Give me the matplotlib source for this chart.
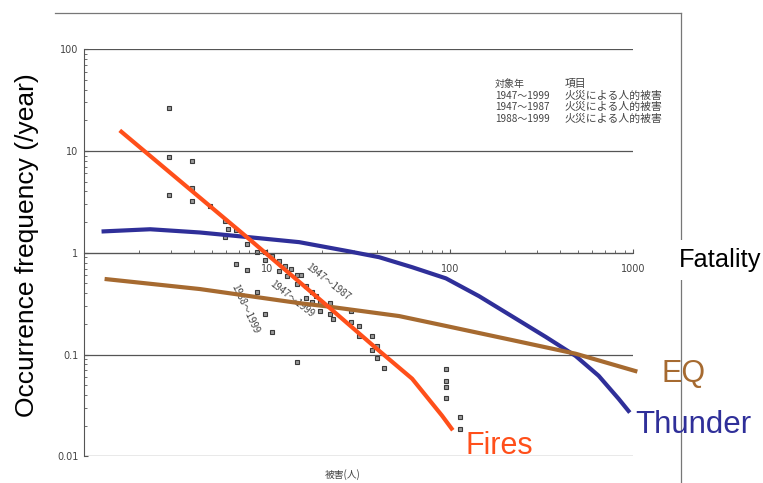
import matplotlib
matplotlib.use("Agg")
import matplotlib.pyplot as plt
import matplotlib.ticker as ticker
from matplotlib.lines import Line2D

# overlay curves (fatalities, frequency per year)
fires_x = [1.6, 8.0, 21.4, 41.0, 62.1, 90.4, 102]
fires_y = [15.4, 1.36, 0.30, 0.109, 0.058, 0.0252, 0.0188]

thunder_x = [1.28, 2.3, 4.3, 8.0, 15.0, 28.2, 41.0, 62.1, 95.1, 144, 218, 334, 486, 649, 834, 945]
thunder_y = [1.62, 1.70, 1.58, 1.42, 1.27, 1.03, 0.904, 0.721, 0.56, 0.375, 0.238, 0.149,
             0.097, 0.062, 0.0369, 0.028]

eq_x = [1.33, 4.3, 15.0, 21.4, 52.7, 95.1, 218, 486, 1030]
eq_y = [0.55, 0.44, 0.32, 0.297, 0.239, 0.191, 0.139, 0.102, 0.069]

# scanned data points (fire victims)
pts_x = [2.9, 2.9, 3.9, 2.9, 3.9, 3.9, 4.9, 5.9, 5.9, 6.1, 6.8, 7.8, 8.8, 9.7,
         10.7, 9.7, 11.7, 6.8, 7.8, 11.7, 12.6, 13.6, 12.8, 14.5, 15.4, 14.5,
         16.4, 16.4, 17.6, 18.6, 17.6, 19.4, 19.4, 22.0, 22.0, 23.0, 8.8, 9.7,
         10.7, 14.5, 28.9, 28.9, 31.9, 31.9, 37.6, 39.8, 37.6, 39.8, 43.7,
         95.7, 95.7, 95.7, 95.7, 113, 113]
pts_y = [26.5, 8.8, 7.9, 3.65, 3.2, 4.3, 2.85, 2.05, 1.43, 1.7, 1.66, 1.21, 1.01, 1.01,
         0.92, 0.845, 0.83, 0.77, 0.67, 0.66, 0.74, 0.70, 0.59, 0.61, 0.61, 0.49,
         0.47, 0.36, 0.41, 0.376, 0.332, 0.332, 0.268, 0.321, 0.248, 0.224, 0.41, 0.25,
         0.167, 0.085, 0.268, 0.209, 0.191, 0.151, 0.151, 0.122, 0.111, 0.093, 0.074,
         0.0726, 0.0553, 0.0484, 0.0378, 0.0246, 0.0188]

grid_levels = [0.01, 0.1, 1, 10, 100]
y_ticks = [0.01, 0.1, 1, 10, 100]
y_tick_labels = ["0.01", "0.1", "1", "10", "100"]
x_ticks = [10, 100, 1000]
x_tick_labels = ["10", "100", "1000"]

legend_rows = [("対象年", "項目"),
               ("1947〜1999", "火災による人的被害"),
               ("1947〜1987", "火災による人的被害"),
               ("1988〜1999", "火災による人的被害")]

c_fire = "#FF4F1A"
c_thunder = "#2F2F99"
c_eq = "#A66A30"
c_scan = "#555555"
jp = ["Noto Sans CJK JP", "DejaVu Sans"]
sans = ["Liberation Sans", "DejaVu Sans"]


def main():
    fig = plt.figure(figsize=(7.63, 4.83), dpi=100)
    ax = fig.add_axes([0.1101, 0.0549, 0.7195, 0.8437])
    ax.set_xscale("log")
    ax.set_yscale("log")
    ax.set_xlim(1, 1000)
    ax.set_ylim(0.01, 100)

    for lv in grid_levels:
        ax.axhline(lv, color=c_scan, lw=0.9, zorder=1)

    for s in ["top", "right"]:
        ax.spines[s].set_visible(False)
    ax.spines["bottom"].set_position(("data", 1))
    ax.spines["bottom"].set_color(c_scan)
    ax.spines["left"].set_color(c_scan)

    ax.set_yticks(y_ticks)
    ax.set_yticklabels(y_tick_labels)
    ax.set_xticks(x_ticks)
    ax.set_xticklabels(x_tick_labels)
    ax.yaxis.set_minor_locator(ticker.LogLocator(subs=range(2, 10)))
    ax.xaxis.set_minor_locator(ticker.LogLocator(subs=range(2, 10)))
    ax.yaxis.set_minor_formatter(ticker.NullFormatter())
    ax.xaxis.set_minor_formatter(ticker.NullFormatter())
    ax.tick_params(axis="both", which="both", direction="in", color=c_scan,
                   labelcolor="#444444", labelsize=7)
    ax.tick_params(axis="both", which="major", length=3)
    ax.tick_params(axis="both", which="minor", length=2)
    ax.tick_params(axis="x", pad=8)
    ax.tick_params(axis="y", pad=4)

    ax.plot(pts_x, pts_y, ls="none", marker="s", ms=3.4, mfc="#999999",
            mec="#3a3a3a", mew=0.8, zorder=2)

    ax.plot(thunder_x, thunder_y, color=c_thunder, lw=3, clip_on=False, zorder=4,
            solid_joinstyle="round")
    ax.plot(eq_x, eq_y, color=c_eq, lw=3, clip_on=False, zorder=4,
            solid_joinstyle="round")
    ax.plot(fires_x, fires_y, color=c_fire, lw=3, clip_on=False, zorder=5,
            solid_joinstyle="round")

    # rotated period labels from the scanned chart
    ax.text(21.5, 0.51, "1947〜1987", rotation=-38, fontsize=7, color="#444444",
            family=jp, ha="center", va="center", zorder=3)
    ax.text(13.7, 0.35, "1947〜1999", rotation=-38, fontsize=7, color="#444444",
            family=jp, ha="center", va="center", zorder=3)
    ax.text(7.6, 0.28, "1988〜1999", rotation=-65, fontsize=7, color="#444444",
            family=jp, ha="center", va="center", zorder=3)

    for i, (a, b) in enumerate(legend_rows):
        yy = 0.914 - i * 0.0283
        ax.text(0.749, yy, a, transform=ax.transAxes, fontsize=7.2, color="#444444",
                family=jp, va="center")
        ax.text(0.876, yy, b, transform=ax.transAxes, fontsize=7.8, color="#444444",
                family=jp, va="center")

    fig.text(343 / 763, 1 - 475 / 483, "被害(人)", fontsize=7, color="#444444",
             family=jp, ha="center", va="center")

    # scan page border
    fig.add_artist(Line2D([55 / 763, 681 / 763], [1 - 13 / 483, 1 - 13 / 483],
                          color="#777777", lw=0.9))
    fig.add_artist(Line2D([681 / 763, 681 / 763], [1 - 13 / 483, 0],
                          color="#777777", lw=0.9))

    fig.text(0.0354, 0.4928, "Occurrence frequency (/year)", rotation=90,
             fontsize=19, family=sans, ha="center", va="center")
    fig.text(679 / 763, 1 - 267 / 483, "Fatality", fontsize=18.3, family=sans,
             ha="left", va="baseline", zorder=5,
             bbox=dict(facecolor="white", edgecolor="none", pad=6))
    fig.text(465 / 763, 1 - 454 / 483, "Fires", fontsize=22, family=sans,
             color=c_fire, ha="left", va="baseline")
    fig.text(635 / 763, 1 - 433 / 483, "Thunder", fontsize=22.5, family=sans,
             color=c_thunder, ha="left", va="baseline")
    fig.text(662 / 763, 1 - 382 / 483, "EQ", fontsize=22, family=sans,
             color=c_eq, ha="left", va="baseline")

    fig.savefig("out.png", dpi=100)


if __name__ == "__main__":
    main()
